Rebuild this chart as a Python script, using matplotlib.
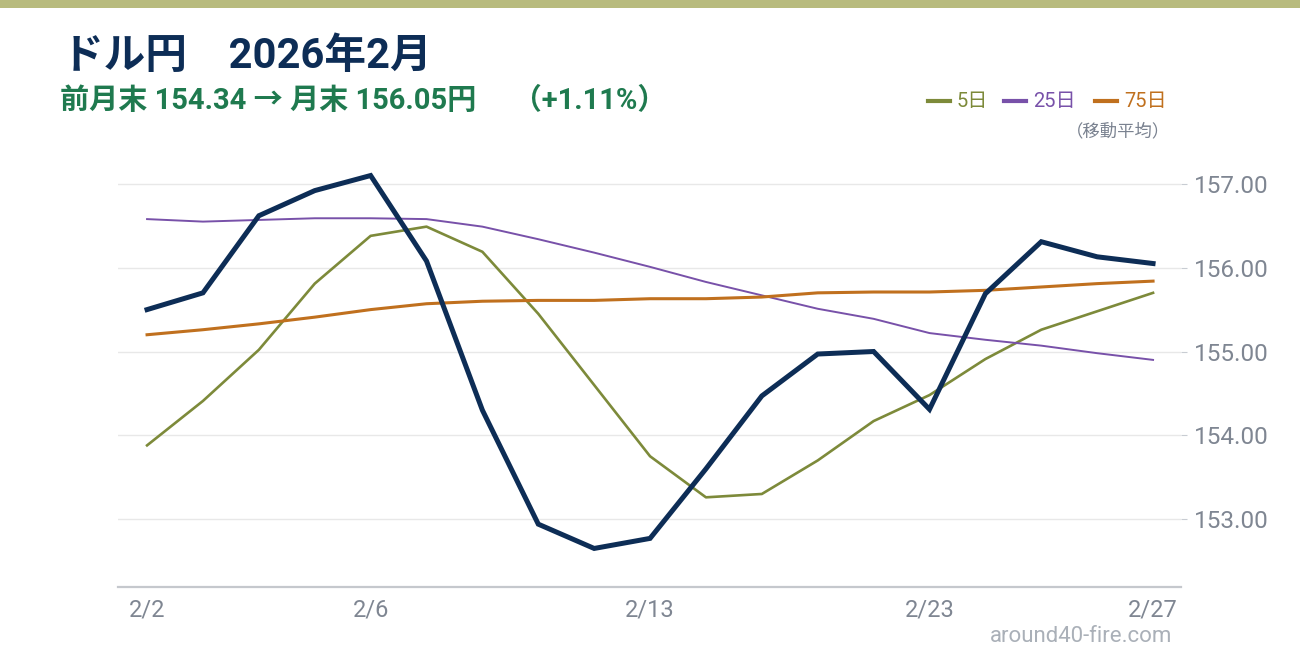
import matplotlib
matplotlib.use("Agg")
import matplotlib.pyplot as plt
from matplotlib.patches import Rectangle
from matplotlib.lines import Line2D

plt.rcParams['font.family'] = ['Roboto', 'Noto Sans CJK JP', 'DejaVu Sans']

dates = ["2/2", "2/3", "2/4", "2/5", "2/6", "2/9", "2/10", "2/11", "2/12", "2/13",
         "2/17", "2/18", "2/19", "2/20", "2/23", "2/24", "2/25", "2/26", "2/27"]
close = [155.50, 155.70, 156.62, 156.92, 157.10, 156.08, 154.30, 152.94, 152.65, 152.77,
         153.60, 154.47, 154.97, 155.00, 154.31, 155.69, 156.31, 156.13, 156.05]
ma5 = [153.88, 154.41, 155.02, 155.81, 156.38, 156.49, 156.19, 155.45, 154.60, 153.75,
       153.26, 153.30, 153.70, 154.17, 154.48, 154.91, 155.26, 155.48, 155.70]
ma25 = [156.58, 156.55, 156.57, 156.59, 156.59, 156.58, 156.49, 156.34, 156.18, 156.01,
        155.83, 155.67, 155.51, 155.39, 155.22, 155.14, 155.07, 154.98, 154.90]
ma75 = [155.20, 155.26, 155.33, 155.41, 155.50, 155.57, 155.60, 155.61, 155.61, 155.63,
        155.63, 155.65, 155.70, 155.71, 155.71, 155.73, 155.77, 155.81, 155.84]
xtick_labels = ["2/2", "2/6", "2/13", "2/23", "2/27"]
ytick_values = [153.0, 154.0, 155.0, 156.0, 157.0]

NAVY = "#0d2d56"
OLIVE = "#7d8a3a"
PURPLE = "#7851a9"
ORANGE = "#c0701e"
GRAY = "#7f8692"

fig = plt.figure(figsize=(13, 6.6), dpi=100)
fig.patch.set_facecolor("white")
fig.add_artist(Rectangle((0, 1 - 8 / 660), 1, 8 / 660, transform=fig.transFigure,
                         color="#b8bb7e", lw=0))

ax = fig.add_axes([118 / 1300, 1 - 587 / 660, (1181 - 118) / 1300, (587 - 142) / 660])
x = list(range(len(dates)))
ax.plot(x, ma5, color=OLIVE, lw=1.9, zorder=3)
ax.plot(x, ma25, color=PURPLE, lw=1.4, zorder=4)
ax.plot(x, ma75, color=ORANGE, lw=2.2, zorder=5)
ax.plot(x, close, color=NAVY, lw=3.6, zorder=6, solid_joinstyle="miter")

ax.set_xlim(-0.52, 18.5)
ax.set_ylim(152.19, 157.5)
ax.set_xticks([dates.index(d) for d in xtick_labels])
ax.set_xticklabels(xtick_labels)
ax.set_yticks(ytick_values)
ax.set_yticklabels([f"{v:.2f}" for v in ytick_values])
ax.yaxis.tick_right()
ax.tick_params(axis="y", length=4, color="#c8ccd2", labelsize=17.5, labelcolor=GRAY, pad=5)
ax.tick_params(axis="x", length=0, labelsize=17, labelcolor=GRAY, pad=8)
ax.grid(axis="y", color="#e8e8e8", lw=1)
ax.set_axisbelow(True)
for s in ["top", "right", "left"]:
    ax.spines[s].set_visible(False)
ax.spines["bottom"].set_color("#c5c8cd")
ax.spines["bottom"].set_linewidth(1.6)

fig.text(62 / 1300, 1 - 56 / 660, "ドル円　2026年2月", fontsize=30, fontweight="bold",
         color=NAVY, va="center", ha="left")
fig.text(60 / 1300, 1 - 101 / 660, "前月末 154.34 → 月末 156.05円　 （+1.11%）", fontsize=21,
         fontweight="bold", color="#1f7a4f", va="center", ha="left")

# legend
leg_y = 1 - 101 / 660
items = [("5日", OLIVE, 928), ("25日", PURPLE, 1004), ("75日", ORANGE, 1095)]
for label, c, x0 in items:
    fig.add_artist(Line2D([x0 / 1300, (x0 + 22) / 1300], [leg_y, leg_y], transform=fig.transFigure,
                          color=c, lw=3))
    fig.text((x0 + 29) / 1300, leg_y, label, fontsize=14.5, color=c, va="center", ha="left")
fig.text(1170 / 1300, 1 - 131 / 660, "（移動平均）", fontsize=12.5, color="#7a8290", va="center", ha="right")

fig.text(1172 / 1300, 1 - 636 / 660, "around40-fire.com", fontsize=16, color="#aab0b8",
         va="center", ha="right")

fig.savefig("out.png", dpi=100, facecolor="white")
